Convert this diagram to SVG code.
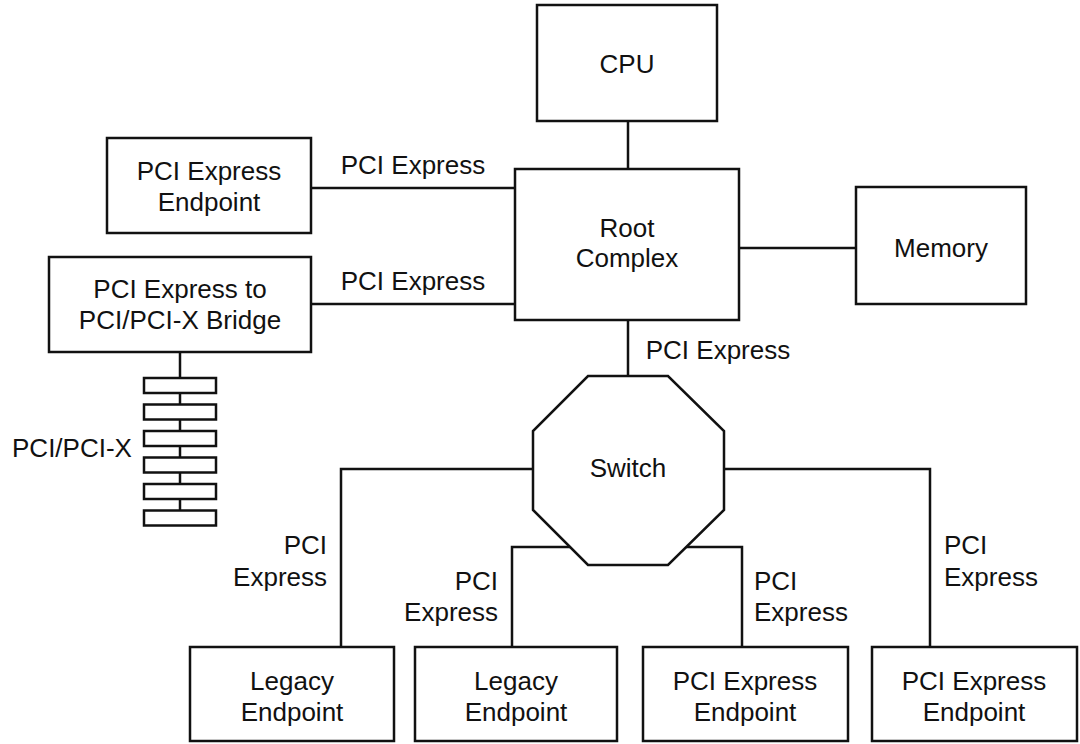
<svg xmlns="http://www.w3.org/2000/svg" width="1080" height="744" viewBox="0 0 1080 744">
<style>
.box{fill:#fff;stroke:#111;stroke-width:2.5}
.ln{fill:none;stroke:#111;stroke-width:2.5}
text{font-family:"Liberation Sans",Arial,Helvetica,sans-serif;font-size:26px;fill:#111}
.c{text-anchor:middle}
.e{text-anchor:end}
</style>
<rect width="1080" height="744" fill="#fff"/>
<g id="connectors">
<path class="ln" d="M628 121V169"/>
<path class="ln" d="M739 248H856"/>
<path class="ln" d="M311 188H515"/>
<path class="ln" d="M311 304H515"/>
<path class="ln" d="M180 351V511"/>
<path class="ln" d="M628 320V376"/>
<path class="ln" d="M533 469H341V647"/>
<path class="ln" d="M724 469H930V647"/>
<path class="ln" d="M570 547H512V647"/>
<path class="ln" d="M686 547H742V647"/>
<text x="413" y="174" class="c">PCI Express</text>
<text x="413" y="290" class="c">PCI Express</text>
<text x="718" y="359" class="c">PCI Express</text>
<text x="327" y="554" class="e">PCI</text>
<text x="327" y="586" class="e">Express</text>
<text x="498" y="590" class="e">PCI</text>
<text x="498" y="621" class="e">Express</text>
<text x="754" y="590">PCI</text>
<text x="754" y="621">Express</text>
<text x="944" y="554">PCI</text>
<text x="944" y="586">Express</text>
</g>
<g id="cpu"><rect class="box" x="537" y="5" width="180" height="116"/><text x="627" y="73" class="c">CPU</text></g>
<g id="root-complex"><rect class="box" x="515" y="169" width="224" height="151"/><text x="627" y="237" class="c">Root</text><text x="627" y="267" class="c">Complex</text></g>
<g id="memory"><rect class="box" x="856" y="187" width="170" height="117"/><text x="941" y="257" class="c">Memory</text></g>
<g id="pcie-endpoint"><rect class="box" x="107" y="138" width="204" height="95"/><text x="209" y="180" class="c">PCI Express</text><text x="209" y="211" class="c">Endpoint</text></g>
<g id="bridge"><rect class="box" x="49" y="257" width="262" height="95"/><text x="180" y="298" class="c">PCI Express to</text><text x="180" y="329" class="c">PCI/PCI-X Bridge</text></g>
<g id="pci-bus">
<rect class="box" x="144" y="378" width="72" height="15"/>
<rect class="box" x="144" y="404.5" width="72" height="15"/>
<rect class="box" x="144" y="431" width="72" height="15"/>
<rect class="box" x="144" y="457.5" width="72" height="15"/>
<rect class="box" x="144" y="484" width="72" height="15"/>
<rect class="box" x="144" y="510.5" width="72" height="15"/>
<text x="72" y="457" class="c">PCI/PCI-X</text>
</g>
<g id="switch"><polygon class="box" points="588,376 668,376 724,431 724,510 668,565 588,565 533,510 533,431"/><text x="628" y="477" class="c">Switch</text></g>
<g id="legacy-endpoint-1"><rect class="box" x="190" y="647" width="204" height="94"/><text x="292" y="690" class="c">Legacy</text><text x="292" y="721" class="c">Endpoint</text></g>
<g id="legacy-endpoint-2"><rect class="box" x="415" y="647" width="202" height="94"/><text x="516" y="690" class="c">Legacy</text><text x="516" y="721" class="c">Endpoint</text></g>
<g id="pcie-endpoint-3"><rect class="box" x="643" y="647" width="205" height="94"/><text x="745" y="690" class="c">PCI Express</text><text x="745" y="721" class="c">Endpoint</text></g>
<g id="pcie-endpoint-4"><rect class="box" x="872" y="647" width="205" height="94"/><text x="974" y="690" class="c">PCI Express</text><text x="974" y="721" class="c">Endpoint</text></g>
</svg>
